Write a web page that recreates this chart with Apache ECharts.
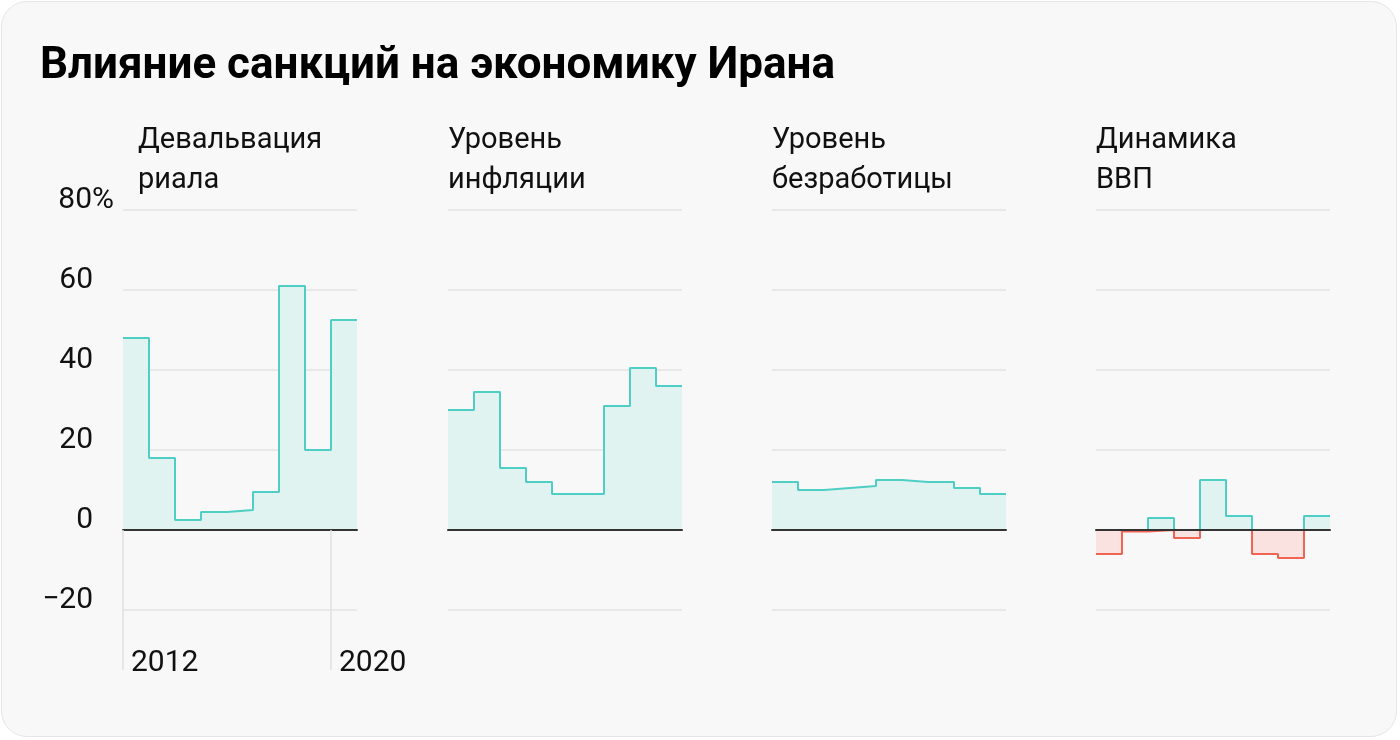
<!DOCTYPE html>
<html>
<head>
<meta charset="utf-8">
<script src="https://cdn.jsdelivr.net/npm/echarts@6/dist/echarts.min.js"></script>
<style>
  html, body { margin: 0; padding: 0; background: #ffffff; }
  #card { position: absolute; left: 1px; top: 1px; width: 1396px; height: 736px; border: 1px solid #e6e6e6; border-radius: 26px; background: #f8f8f8; box-sizing: border-box; }
  #chart { position: absolute; left: 0; top: 0; width: 1400px; height: 740px; }
</style>
</head>
<body>
<div id="card"></div>
<div id="chart"></div>
<script>
// ---- data ----
const years = [2012, 2013, 2014, 2015, 2016, 2017, 2018, 2019, 2020];
const devaluation = [48, 18, 2.5, 4.5, 5, 9.5, 61, 20, 52.5];
const inflation = [30, 34.5, 15.5, 12, 9, 9, 31, 40.5, 36];
const unemployment = [12, 10, 10.5, 11, 12.5, 12, 12, 10.5, 9];
const gdp = [-6, -0.4, 3, -2, 12.5, 3.5, -6, -7, 3.5];
const yTicks = [-20, 0, 20, 40, 60, 80];
const xTickLabels = [2012, 2020];
const mainTitle = 'Влияние санкций на экономику Ирана';
const panelTitles = ['Девальвация\nриала', 'Уровень\nинфляции', 'Уровень\nбезработицы', 'Динамика\nВВП'];

// ---- styling ----
const FONT = 'Roboto, "Noto Sans", sans-serif';
const TEAL = '#4fcec5';
const TEAL_FILL = '#e0f3f0';
const RED = '#ef6453';
const RED_FILL = '#f9e2df';
const GRID_LEFTS = [123, 448, 772, 1096];
const SUB_LEFTS = [138, 448, 772, 1096];
const GRID_W = 234;
const NUM_SIZE = 30;

function stepData(vals) {
  const d = years.map((y, i) => [y, vals[i]]);
  d.push([years[years.length - 1] + 1, vals[vals.length - 1]]);
  return d;
}

const panels = [devaluation, inflation, unemployment, gdp];

const grids = GRID_LEFTS.map(l => ({ left: l, top: 210, width: GRID_W, height: 400, containLabel: false, outerBoundsMode: 'none' }));

const xAxes = panels.map((_, i) => ({
  type: 'value', gridIndex: i, min: years[0], max: years[years.length - 1] + 1,
  z: 5,
  axisLine: { show: true, onZero: true, lineStyle: { color: '#333333', width: 2 } },
  axisTick: i === 0 ? { show: true, customValues: xTickLabels, length: 140, inside: false, lineStyle: { color: '#e0e0e0', width: 1.5 } } : { show: false },
  axisLabel: i === 0 ? { show: true, customValues: xTickLabels, align: 'left', margin: 38, padding: [0, 0, 0, 8],
    fontFamily: FONT, fontSize: NUM_SIZE, color: '#111111', formatter: v => String(v) } : { show: false },
  splitLine: { show: false }
}));

const yAxes = panels.map((_, i) => ({
  type: 'value', gridIndex: i, min: yTicks[0], max: yTicks[yTicks.length - 1], interval: 20,
  axisLine: { show: false }, axisTick: { show: false },
  splitLine: { show: true, lineStyle: { color: '#e3e3e3', width: 1.5 } },
  axisLabel: i === 0 ? {
    show: true, margin: 30, fontFamily: FONT, fontSize: NUM_SIZE, color: '#111111',
    verticalAlign: 'middle', padding: [0, 0, 20, 0],
    formatter: v => {
      if (v === yTicks[yTicks.length - 1]) return '{n|' + v + '}{p|%}';
      return v < 0 ? '\u2212' + Math.abs(v) : String(v);
    },
    rich: {
      n: { fontFamily: FONT, fontSize: NUM_SIZE, color: '#111111', align: 'left' },
      p: { fontFamily: FONT, fontSize: NUM_SIZE, color: '#111111', width: 1, align: 'left' }
    }
  } : { show: false }
}));

const series = [];
panels.forEach((vals, i) => {
  if (i < 3) {
    series.push({
      type: 'line', xAxisIndex: i, yAxisIndex: i, step: 'end', symbol: 'none',
      data: stepData(vals),
      lineStyle: { color: TEAL, width: 2 },
      areaStyle: { color: TEAL_FILL, opacity: 1 },
      silent: true, animation: false
    });
  } else {
    const pos = vals.map(v => Math.max(v, 0));
    const neg = vals.map(v => Math.min(v, 0));
    series.push({
      type: 'line', xAxisIndex: i, yAxisIndex: i, step: 'end', symbol: 'none',
      data: stepData(neg),
      lineStyle: { color: RED, width: 2 },
      areaStyle: { color: RED_FILL, opacity: 1 },
      silent: true, animation: false
    });
    series.push({
      type: 'line', xAxisIndex: i, yAxisIndex: i, step: 'end', symbol: 'none',
      data: stepData(pos),
      lineStyle: { color: TEAL, width: 2 },
      areaStyle: { color: TEAL_FILL, opacity: 1 },
      silent: true, animation: false
    });
  }
});

const titles = [{
  text: mainTitle, left: 40, top: 45, padding: 0,
  textStyle: { fontFamily: FONT, fontSize: 44, fontWeight: 700, color: '#000000' }
}].concat(panelTitles.map((t, i) => ({
  text: t, left: SUB_LEFTS[i], top: 121, padding: 0,
  textStyle: { fontFamily: FONT, fontSize: 29, fontWeight: 400, color: '#111111', lineHeight: 40 }
})));

const chart = echarts.init(document.getElementById('chart'), null, { renderer: 'canvas' });
chart.setOption({
  backgroundColor: 'transparent',
  animation: false,
  title: titles,
  grid: grids,
  xAxis: xAxes,
  yAxis: yAxes,
  series: series
});
</script>
</body>
</html>
